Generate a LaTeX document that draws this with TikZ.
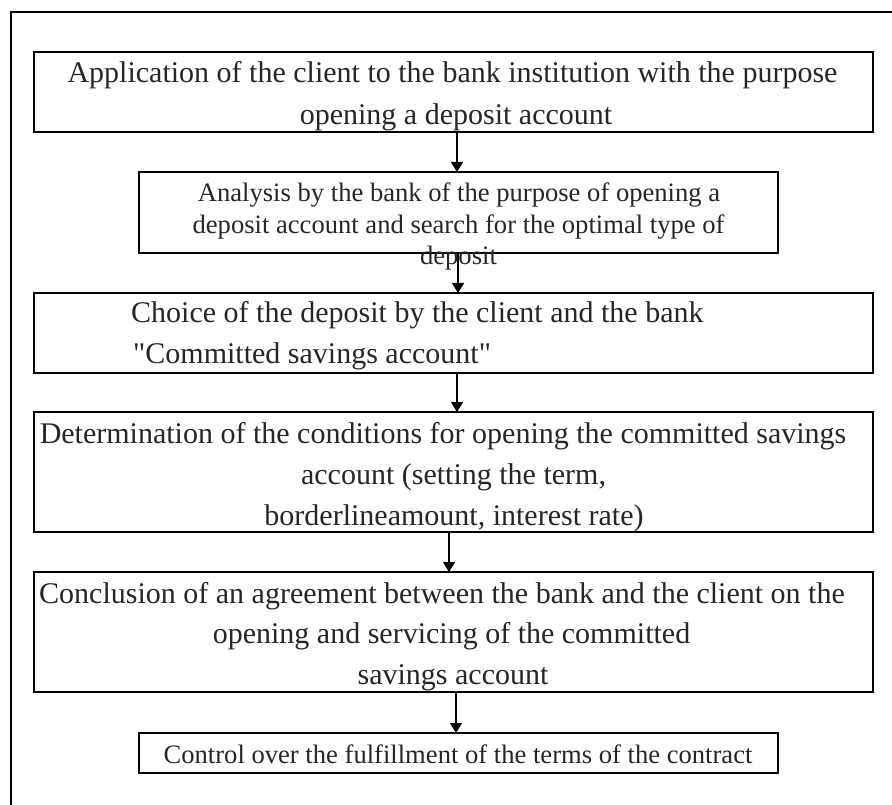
\documentclass[tikz,border=0pt]{standalone}
\usepackage{fontspec}
\setmainfont{Liberation Serif}
\usetikzlibrary{arrows.meta}
\tikzset{
  box/.style={draw=black, line width=2pt, rectangle, inner sep=0pt, outer sep=0pt},
  bigtxt/.style={inner sep=0pt, anchor=base, font=\fontsize{30}{36}\selectfont, text=black!85},
  smalltxt/.style={inner sep=0pt, anchor=base, font=\fontsize{26.6}{32}\selectfont, text=black!85},
  arr/.style={draw=black, line width=1.4pt, -{Triangle[length=10pt,width=12pt]}},
  frame/.style={draw=black, line width=2pt}
}
\begin{document}
\begin{tikzpicture}[x=1pt, y=-1pt]
\useasboundingbox (0,0) rectangle (892,805);
\draw[frame] (11,805) -- (11,12) -- (892,12);

% boxes
\node[box, minimum width=839pt, minimum height=80pt] (b1) at (453.5,92) {};
\node[box, minimum width=639pt, minimum height=81pt] (b2) at (458.5,212.5) {};
\node[box, minimum width=839pt, minimum height=80pt] (b3) at (453.5,333) {};
\node[box, minimum width=839pt, minimum height=120pt] (b4) at (453.5,472) {};
\node[box, minimum width=839pt, minimum height=120pt] (b5) at (453.5,632) {};
\node[box, minimum width=639pt, minimum height=40pt] (b6) at (458.5,753) {};

% texts
\node[bigtxt] (t1a) at (452.5,83) {Application of the client to the bank institution with the purpose};
\node[bigtxt] (t1b) at (456,125) {opening a deposit account};

\node[smalltxt] (t2a) at (459,202) {Analysis by the bank of the purpose of opening a};
\node[smalltxt] (t2b) at (458.5,233.5) {deposit account and search for the optimal type of};
\node[smalltxt] (t2c) at (458.5,265) {deposit};

\node[bigtxt, anchor=base west] (t3a) at (131,322) {Choice of the deposit by the client and the bank};
\node[bigtxt, anchor=base west] (t3b) at (133,363) {\textquotedbl Committed savings account\textquotedbl};

\node[bigtxt] (t4a) at (443,443) {Determination of the conditions for opening the committed savings};
\node[bigtxt] (t4b) at (453.5,484) {account (setting the term,};
\node[bigtxt] (t4c) at (454,525) {borderlineamount, interest rate)};

\node[bigtxt] (t5a) at (442,603) {Conclusion of an agreement between the bank and the client on the};
\node[bigtxt] (t5b) at (451.5,643) {opening and servicing of the committed};
\node[bigtxt] (t5c) at (453,684) {savings account};

\node[smalltxt] (t6) at (458,763) {Control over the fulfillment of the terms of the contract};

% arrow x positions
\coordinate (x1) at (457,0);
\coordinate (x2) at (458,0);
\coordinate (x3) at (457,0);
\coordinate (x4) at (449,0);
\coordinate (x5) at (456,0);

\draw[arr] (b1.south -| x1) -- (b2.north -| x1);
\draw[arr] (b2.south -| x2) -- (b3.north -| x2);
\draw[arr] (b3.south -| x3) -- (b4.north -| x3);
\draw[arr] (b4.south -| x4) -- (b5.north -| x4);
\draw[arr] (b5.south -| x5) -- (b6.north -| x5);
\end{tikzpicture}
\end{document}
